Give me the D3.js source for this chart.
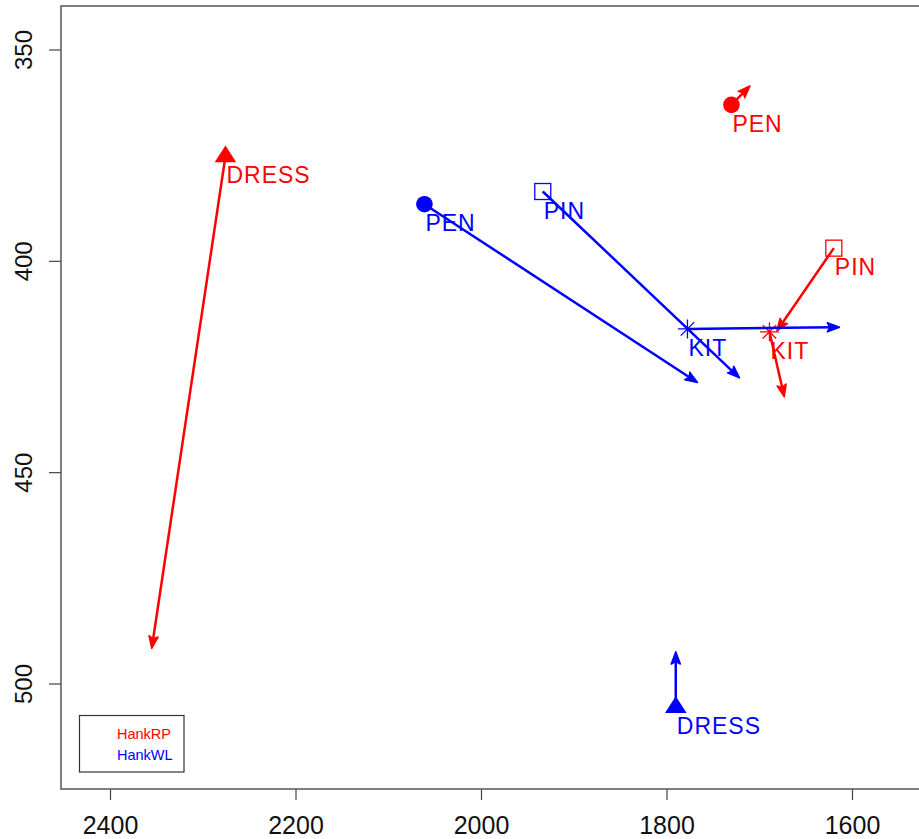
<!DOCTYPE html>
<html>
<head>
<meta charset="utf-8">
<script src="https://cdn.jsdelivr.net/npm/d3@7"></script>
<style>
  body { margin: 0; background: #fff; }
  text { font-family: 'Liberation Sans', Arial, Helvetica, sans-serif; }
</style>
</head>
<body>
<div id="chart"></div>
<script>
// words shared by both speakers
const words = ['PEN', 'PIN', 'KIT', 'DRESS']

// HankRP: start point and arrow end
const rpX = [1730, 1619.6, 1689, 2275.5]
const rpY = [363.1, 397.0, 416.8, 375.2]
const rpEndX = [1710, 1681, 1673, 2355]
const rpEndY = [358.6, 416.6, 432.2, 491.7]

// HankWL: start point and arrow end
const wlX = [2061, 1933.4, 1777.4, 1790]
const wlY = [386.6, 383.6, 416.1, 505.5]
const wlEndX = [1766.6, 1721.3, 1613.5, 1790]
const wlEndY = [428.8, 427.7, 415.7, 492.5]

const xTicks = [2400, 2200, 2000, 1800, 1600]
const yTicks = [350, 400, 450, 500]
const legendNames = ['HankRP', 'HankWL']

const width = 919
const height = 839
const box = { left: 61, top: 6, right: 935, bottom: 789 }

const svg = d3
  .select('#chart')
  .append('svg')
  .attr('width', width)
  .attr('height', height)

svg.append('rect').attr('width', width).attr('height', height).attr('fill', 'white')

// reversed axes, like the R plot
const x = d3.scaleLinear().domain([2400, 1600]).range([110, 852])
const y = d3.scaleLinear().domain([350, 500]).range([49.5, 683.5])

const series = [
  { name: 'HankRP', color: '#ff0000', xs: rpX, ys: rpY, ex: rpEndX, ey: rpEndY },
  { name: 'HankWL', color: '#0000ff', xs: wlX, ys: wlY, ex: wlEndX, ey: wlEndY }
]

// axes
const xAxis = d3.axisBottom(x).tickValues(xTicks).tickSize(11).tickFormat(d3.format('d'))
const gx = svg.append('g').attr('transform', `translate(0,${box.bottom})`).call(xAxis)
gx.select('.domain').remove()
gx.selectAll('line').attr('stroke', '#444').attr('stroke-width', 1.2)
gx.selectAll('text').attr('font-size', 25).attr('fill', '#111').attr('y', 45).attr('dy', null)

const yAxis = d3.axisLeft(y).tickValues(yTicks).tickSize(12).tickFormat(d3.format('d'))
const gy = svg.append('g').attr('transform', `translate(${box.left},0)`).call(yAxis)
gy.select('.domain').remove()
gy.selectAll('line').attr('stroke', '#444').attr('stroke-width', 1.2)
gy.selectAll('text')
  .attr('font-size', 24)
  .attr('fill', '#111')
  .attr('x', null)
  .attr('dy', null)
  .attr('text-anchor', 'middle')
  .attr('transform', 'translate(-29,0) rotate(-90)')

// plot box
svg.append('rect')
  .attr('x', box.left)
  .attr('y', box.top)
  .attr('width', box.right - box.left)
  .attr('height', box.bottom - box.top)
  .attr('fill', 'none')
  .attr('stroke', '#555')
  .attr('stroke-width', 1.5)

function shaftPath (x0, y0, x1, y1) {
  const ang = Math.atan2(y1 - y0, x1 - x0)
  const back = 6
  return `M${x0},${y0}L${x1 - back * Math.cos(ang)},${y1 - back * Math.sin(ang)}`
}

function headPath (x0, y0, x1, y1) {
  const ang = Math.atan2(y1 - y0, x1 - x0)
  const len = 13
  const spread = 0.36
  const a1 = [x1 - len * Math.cos(ang - spread), y1 - len * Math.sin(ang - spread)]
  const a2 = [x1 - len * Math.cos(ang + spread), y1 - len * Math.sin(ang + spread)]
  const mid = [x1 - 0.75 * len * Math.cos(ang), y1 - 0.75 * len * Math.sin(ang)]
  return `M${a1}L${x1},${y1}L${a2}L${mid}Z`
}

function drawSymbol (g, word, color) {
  if (word === 'PEN') {
    g.append('circle').attr('r', 8.3).attr('fill', color)
  } else if (word === 'PIN') {
    g.append('rect').attr('x', -8).attr('y', -8).attr('width', 16).attr('height', 16)
      .attr('fill', 'none').attr('stroke', color).attr('stroke-width', 1.3)
  } else if (word === 'KIT') {
    const r = 9.5
    const d = r * Math.SQRT1_2
    g.append('path')
      .attr('d', `M${-r},0H${r}M0,${-r}V${r}M${-d},${-d}L${d},${d}M${-d},${d}L${d},${-d}`)
      .attr('stroke', color).attr('stroke-width', 1.3).attr('fill', 'none')
  } else {
    g.append('path').attr('d', 'M0,-10.5L10.8,6.3L-10.8,6.3Z').attr('fill', color)
  }
}

series.forEach(s => {
  const layer = svg.append('g').attr('class', s.name)

  layer.selectAll('.shaft')
    .data(words)
    .enter()
    .append('path')
    .attr('class', 'shaft')
    .attr('d', (w, i) => shaftPath(x(s.xs[i]), y(s.ys[i]), x(s.ex[i]), y(s.ey[i])))
    .attr('fill', 'none')
    .attr('stroke', s.color)
    .attr('stroke-width', 2.5)

  layer.selectAll('.head')
    .data(words)
    .enter()
    .append('path')
    .attr('class', 'head')
    .attr('d', (w, i) => headPath(x(s.xs[i]), y(s.ys[i]), x(s.ex[i]), y(s.ey[i])))
    .attr('fill', s.color)
    .attr('stroke', s.color)
    .attr('stroke-width', 1.5)
    .attr('stroke-linejoin', 'round')

  words.forEach((w, i) => {
    const g = layer.append('g').attr('transform', `translate(${x(s.xs[i])},${y(s.ys[i])})`)
    drawSymbol(g, w, s.color)
  })

  layer.selectAll('.label')
    .data(words)
    .enter()
    .append('text')
    .attr('class', 'label')
    .attr('x', (w, i) => x(s.xs[i]) + 1)
    .attr('y', (w, i) => y(s.ys[i]) + 27)
    .attr('font-size', 23)
    .attr('letter-spacing', 1)
    .attr('fill', s.color)
    .text(w => w)
})

// legend
svg.append('rect')
  .attr('x', 79.5)
  .attr('y', 715.5)
  .attr('width', 104.5)
  .attr('height', 56.5)
  .attr('fill', 'white')
  .attr('stroke', '#333')
  .attr('stroke-width', 1.2)

svg.selectAll('.legend')
  .data(legendNames)
  .enter()
  .append('text')
  .attr('class', 'legend')
  .attr('x', 117)
  .attr('y', (d, i) => 738.5 + i * 21)
  .attr('font-size', 14.5)
  .attr('fill', (d, i) => series[i].color)
  .text(d => d)
</script>
</body>
</html>
